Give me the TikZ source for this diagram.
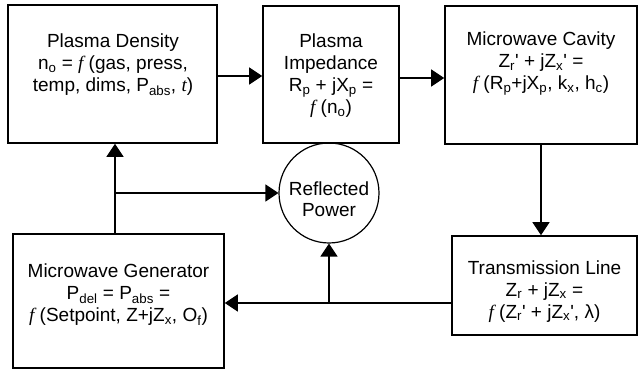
\documentclass[tikz,border=0pt]{standalone}
\usepackage{fontspec}
\setmainfont{Liberation Sans}
\newfontfamily\serfont{Liberation Serif}
\usetikzlibrary{arrows.meta}
% italic function letter and subscripts
\newcommand{\fn}{{\serfont\itshape f}}
\newcommand{\lo}[1]{\textsubscript{#1}}
\newcommand{\pr}{\textquotesingle}

\begin{document}
\begin{tikzpicture}[x=1pt,y=-1pt,
  box/.style={draw, line width=1.6pt, inner sep=0pt},
  txt/.style={align=center, inner sep=0pt, font=\fontsize{19}{22}\selectfont},
  conn/.style={line width=1.3pt},
  arr/.style={conn, -{Triangle[length=13pt,width=17pt]}}]
\useasboundingbox (0,0) rectangle (641,374);

% blocks
\node[box, minimum width=209pt, minimum height=138pt] (pd) at (112.5,74) {};
\node[box, minimum width=136pt, minimum height=137pt] (pi) at (331,74.5) {};
\node[box, minimum width=192pt, minimum height=138pt] (mc) at (541,75) {};
\node[box, minimum width=185pt, minimum height=99pt]  (tl) at (544.5,285.5) {};
\node[box, minimum width=211pt, minimum height=134pt] (mg) at (118.5,301) {};
\node[draw, circle, line width=1.2pt, minimum size=100pt, inner sep=0pt] (rp) at (329,193) {};

% block texts
\node[txt] (pdtext) at (113,65) {Plasma Density\\
  n\lo{o} = \fn{} (gas, press,\\
  temp, dims, P\lo{abs}, {\serfont\itshape t})};
\node[txt] (pitext) at (331,76) {Plasma\\ Impedance\\
  R\lo{p} + jX\lo{p} =\\ \fn{} (n\lo{o})};
\node[txt] (mctext) at (541,63.7) {Microwave Cavity\\
  Z\lo{r}\pr{} + jZ\lo{x}\pr{} =\\
  \fn{} (R\lo{p}+jX\lo{p}, k\lo{x}, h\lo{c})};
\node[txt] (tltext) at (544.5,291.5) {Transmission Line\\
  Z\lo{r} + jZ\lo{x} =\\
  \fn{} (Z\lo{r}\pr{} + jZ\lo{x}\pr, λ)};
\node[txt] (mgtext) at (118.5,294.7) {Microwave Generator\\
  P\lo{del} = P\lo{abs} =\\
  \fn{} (Setpoint, Z+jZ\lo{x}, O\lo{f})};
\node[align=center, inner sep=0pt, font=\fontsize{19}{21}\selectfont] (rptext) at (329,199) {Reflected\\ Power};

% connectors
\draw[arr] (pd.east |- 0,76) -- (pi.west |- 0,76);
\draw[arr] (pi.east |- 0,78) -- (mc.west |- 0,78);
\draw[arr] (mc.south) -- (mc.south |- tl.north);
\draw[arr] (tl.west |- 0,303) -- (mg.east |- 0,303);
\coordinate (j1) at (rp.south |- 0,303);
\draw[arr] (j1) -- (rp.south);
\draw[arr] (mg.north -| 115,0) -- (pd.south -| 115,0);
\coordinate (j2) at (rp.west -| 115,0);
\draw[arr] (j2) -- (rp.west);
\end{tikzpicture}
\end{document}
